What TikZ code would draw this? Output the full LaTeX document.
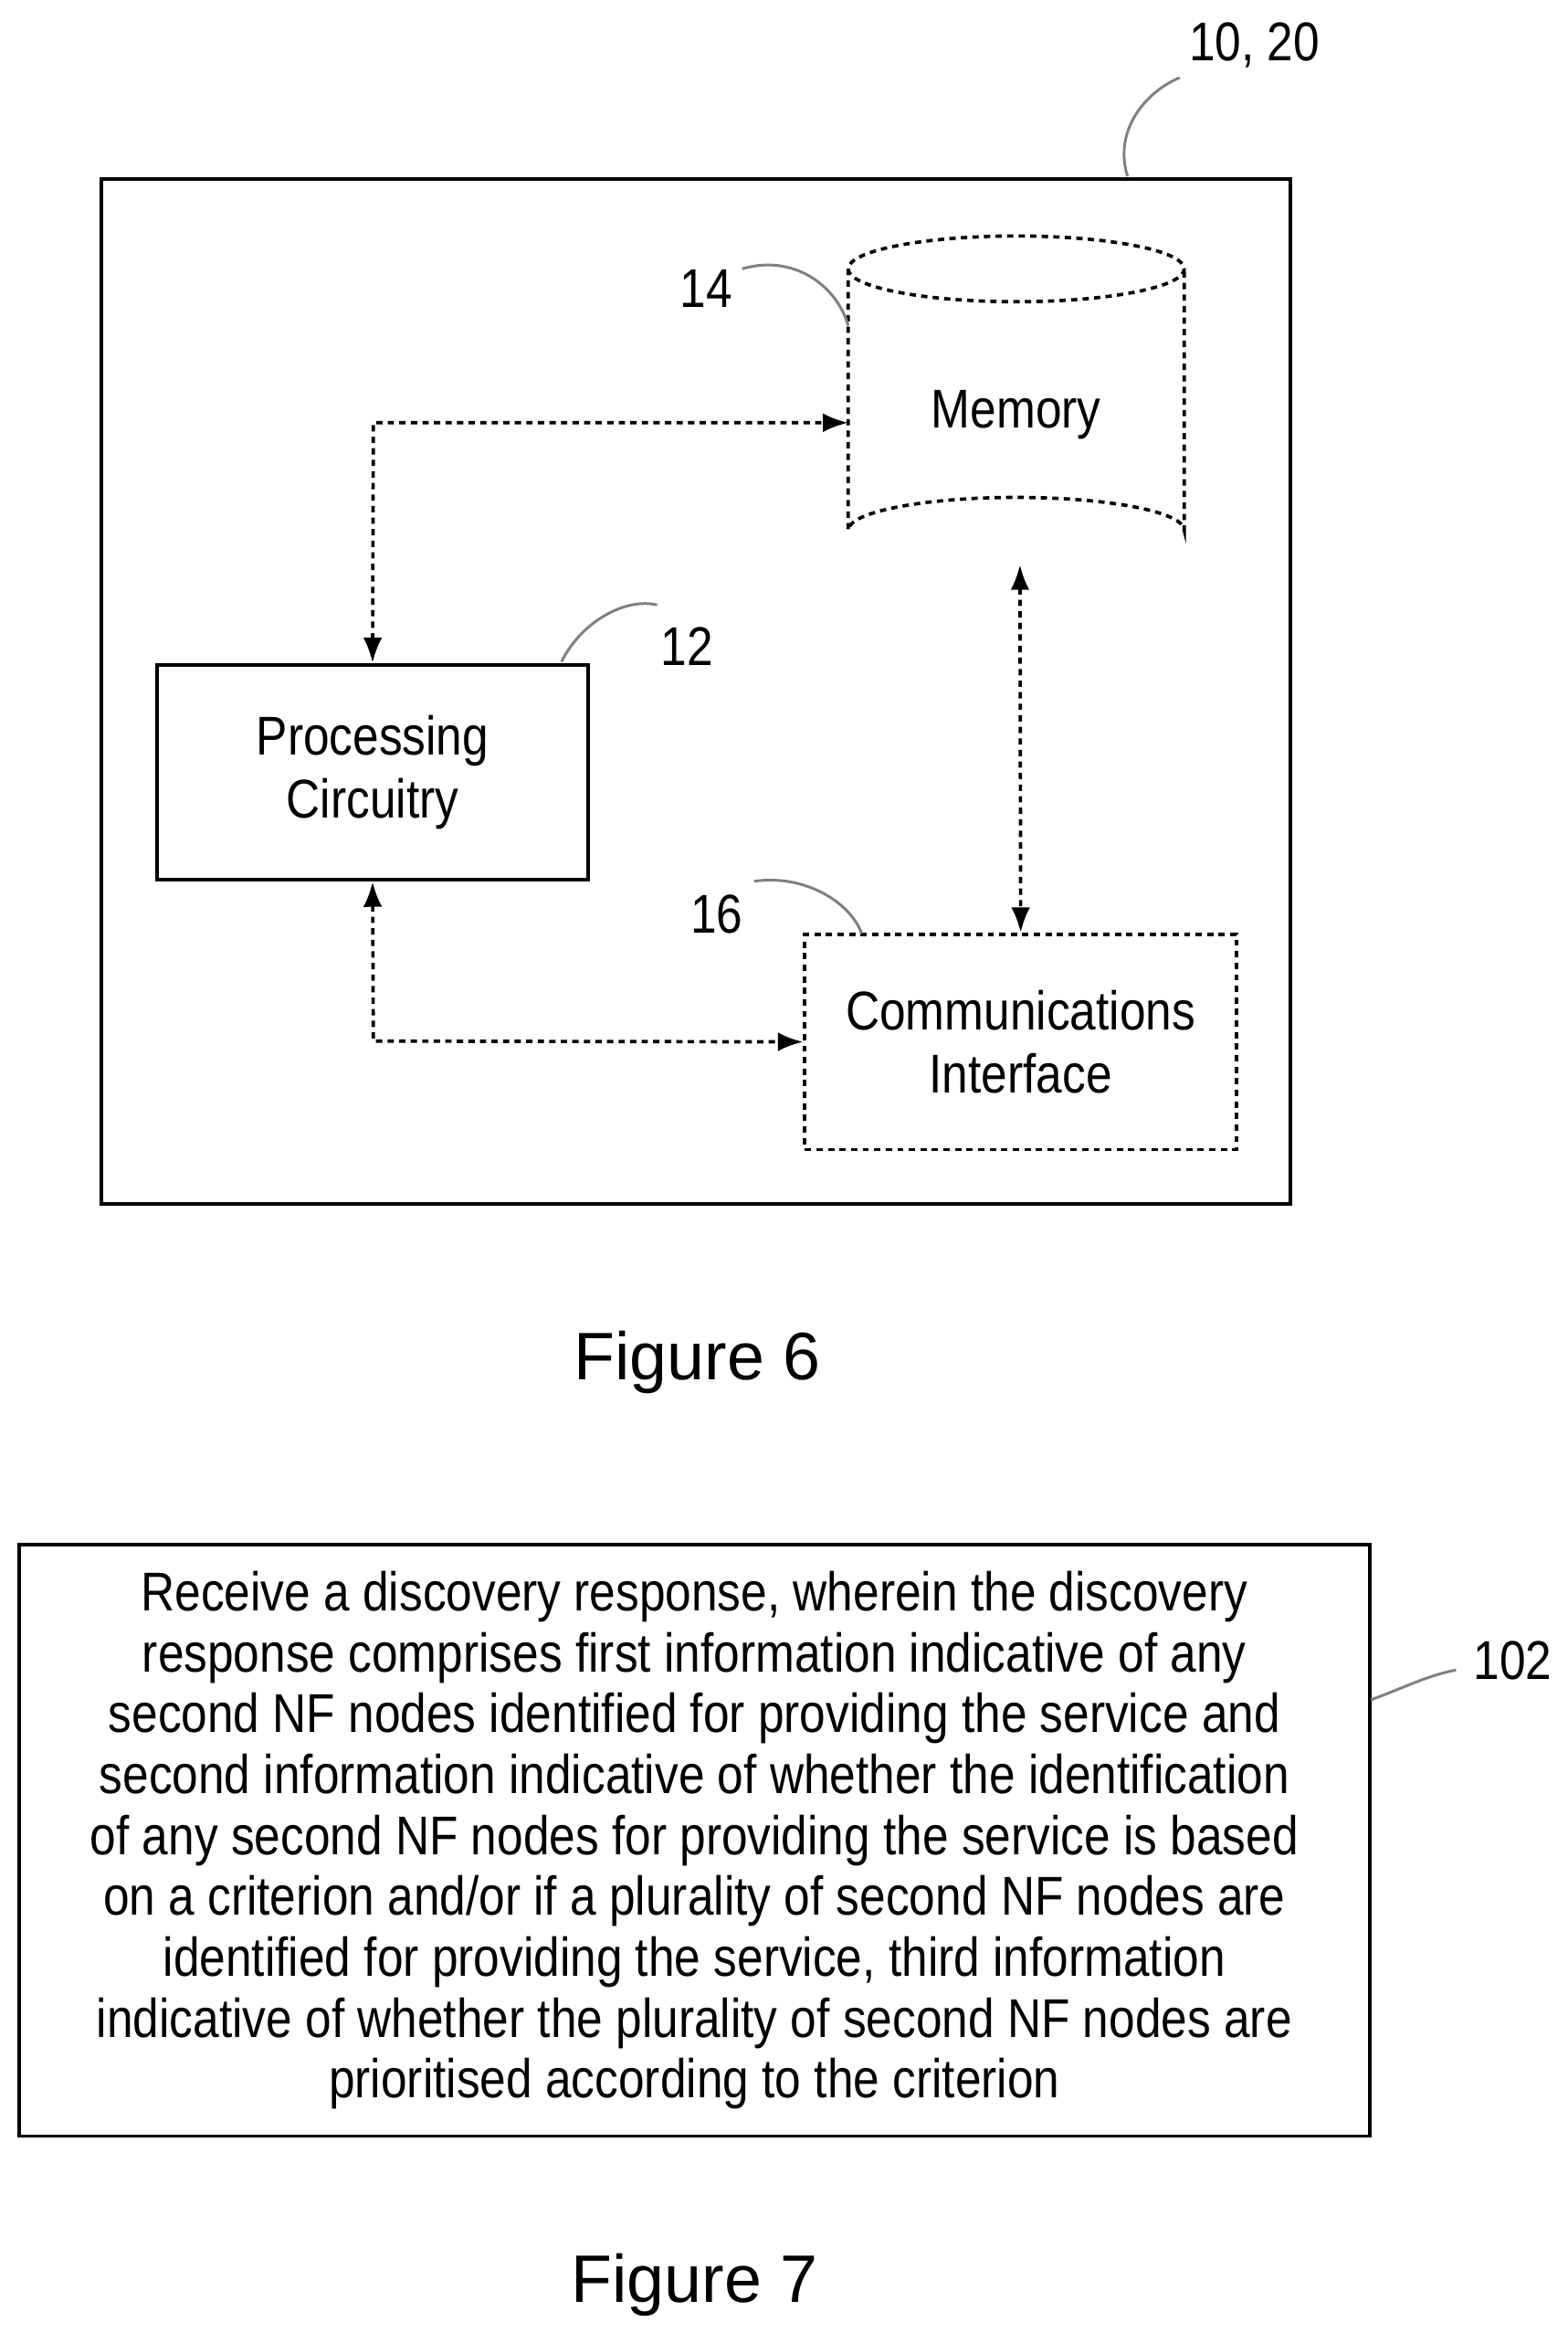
\documentclass[tikz,border=0pt]{standalone}
\usepackage{fontspec}
\setmainfont[FakeStretch=0.86]{Liberation Sans}
\newfontfamily\figfont{Liberation Sans}
\usetikzlibrary{arrows.meta}
\tikzset{
  dotted line/.style={line width=1.6pt, dash pattern=on 3pt off 2.5pt},
  box/.style={draw, line width=1.7pt, minimum width=7.225cm, minimum height=3.6cm, align=center, font=\fontsize{26}{30}\selectfont},
  twoway/.style={dotted line, {Latex[length=12pt,width=9pt]}-{Latex[length=12pt,width=9pt]}},
  leader/.style={gray, line width=1.3pt},
  refnum/.style={font=\fontsize{26}{30}\selectfont}
}
\begin{document}
\begin{tikzpicture}[x=0.025cm,y=-0.025cm]
  \useasboundingbox[fill=white] (0,0) rectangle (1050,1568.6);
  % Figure 6 outer frame
  \draw[line width=1.9pt] (68,120) rectangle (864,806);
  \node[refnum] (n1020) at (840,30) {10, 20};
  \draw[leader] (755,118) .. controls (745,85) and (770,60) .. (790,52);
  % memory
  \node[minimum width=5.6cm, minimum height=4.9cm, font=\fontsize{26}{30}\selectfont] (mem) at (680.5,278) {Memory};
  \draw[dotted line] (568,180) arc[start angle=180, end angle=-180, x radius=112.5, y radius=22];
  \draw[dotted line] (568,180) -- (568,355) arc[start angle=180, end angle=360, x radius=112.5, y radius=22] -- (793,180);
  \node[refnum] (n14) at (473,193) {14};
  \draw[leader] (497,180) .. controls (530,170) and (560,190) .. (568,218);
  % processing circuitry
  \node[box] (proc) at (249.5,517) {Processing\\Circuitry};
  \node[refnum] (n12) at (460,433) {12};
  \draw[leader] (376,443) .. controls (390,415) and (420,400) .. (440,405);
  % communications interface
  \node[box, dotted line] (comm) at (683.5,697.5) {Communications\\Interface};
  \node[refnum] (n16) at (480,612) {16};
  \draw[leader] (505,590) .. controls (540,585) and (570,605) .. (577,625);
  % links
  \coordinate (c1) at (250,283);
  \coordinate (mw) at (568,283);
  \coordinate (c2) at (250,697);
  \draw[twoway] (proc.north) -- (c1) -- (mw);
  \draw[twoway] (683,378) -- (comm.north);
  \draw[twoway] (proc.south) -- (c2) -- (comm.west);
  \node[font=\figfont\fontsize{32}{36}\selectfont] (fig6) at (467,912) {Figure 6};
  % Figure 7 step
  \node[draw, line width=1.7pt, minimum width=22.6cm, minimum height=9.9cm, align=center, font=\fontsize{26}{29}\selectfont] (step) at (465,1232) {Receive a discovery response, wherein the discovery\\response comprises first information indicative of any\\second NF nodes identified for providing the service and\\second information indicative of whether the identification\\of any second NF nodes for providing the service is based\\on a criterion and/or if a plurality of second NF nodes are\\identified for providing the service, third information\\indicative of whether the plurality of second NF nodes are\\prioritised according to the criterion};
  \node[refnum] (n102) at (1013,1112) {102};
  \draw[leader] (918,1138) .. controls (940,1130) and (955,1122) .. (975,1118);
  \node[font=\figfont\fontsize{32}{36}\selectfont] (fig7) at (465,1530) {Figure 7};
\end{tikzpicture}
\end{document}
